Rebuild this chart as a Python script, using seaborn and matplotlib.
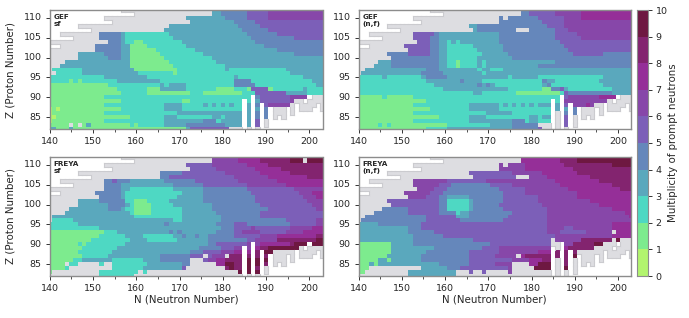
import numpy as np
import matplotlib
matplotlib.use('Agg')
import matplotlib.pyplot as plt
from matplotlib.colors import ListedColormap
import seaborn as sns

# rows run from Z=112 down to Z=82, every token is <class><last N of the run>
# g = nucleus without a value, digit = multiplicity bin (0 means 0-1, etc.)
gef_sf = [
    "g177 3179 4185 5190 6203", "g177 3179 4185 5190 6203", "g171 3180 4185 5190 6203",
    "g172 3182 4187 5203", "g167 3183 4188 5203", "g166 3184 4190 5203",
    "g151 4156 3157 2167 3185 4192 5203", "g151 4156 3157 2168 3186 4196 5203",
    "g153 4156 3157 2159 1161 2170 3187 4203", "g150 4156 3158 1162 2171 3189 4203",
    "g150 4156 3158 1164 2173 3192 4203", "g146 3152 4156 3158 1165 2175 3196 4203",
    "g146 3153 4156 3158 1166 2177 3203", "g143 3158 1167 2178 3203", "g142 3158 1168 2180 3203",
    "g140 2147 3159 1169 2180 3181 2194 3203", "g141 2147 3160 2168 1169 2182 2195 3203",
    "2152 3162 2182 3183 2198 3203", "2144 1145 2146 1147 2155 3165 2182 4186 2200 3203",
    "1153 2165 3166 2167 3171 2182 4187 2201 3203", "1155 2162 1165 3171 2178 1182 2185 1186 5190 1191 2198 3199 2203",
    "1156 2162 1172 2175 1184 2187 5194 3197 3199 2203", "1152 2184 2186 4188 5195 6199 g203",
    "1156 2170 1172 2184 2186 3188 5195 6196 g203", "1152 2166 3170 2175 3176 2177 3178 2179 3180 2181 3182 2184 3186 4188 5190 6195 g203",
    "0140 1141 0142 1156 2166 3170 2184 3186 3188 4190 g203", "0140 1152 2169 3184 3186 4188 4190 g203",
    "0141 1158 2166 3169 2177 3179 2180 3184 3186 4188 4190 g203", "0140 1152 2166 3175 4178 2179 3184 3186 5188 g190 g203",
    "1144 g145 1146 g147 1148 3149 1158 2159 1160 2166 3171 4180 3184 3186 5188 g203", "3141 1144 3145 1171 3172 5181 g203",
]
gef_nf = [
    "g177 4179 5185 6191 7203", "g177 4179 5185 6191 7203", "g172 4173 g174 4181 5187 6191 7203",
    "g172 4182 5187 6203", "g165 3167 4183 5187 6203", "g166 3167 4176 g179 4185 5188 6203",
    "g152 5157 4158 3172 4185 5190 6203", "g152 5156 4158 3172 4185 5191 6203",
    "g153 5156 4158 3160 2161 3162 2163 3172 4186 5203", "g150 5156 4158 3160 2166 3173 4187 5203",
    "g151 5156 4158 3160 2167 3173 4188 5203", "g146 4151 5156 4158 3160 2168 3174 4189 5196 4203",
    "g147 4158 3160 2167 3175 4203", "g144 3147 4158 3160 2162 1163 2167 3168 2169 3185 4203",
    "g143 3147 4158 3160 2162 1163 2167 3168 2169 3181 4203", "g141 3155 4158 3167 2168 3170 2173 3203",
    "g140 3154 4159 3168 2169 3203", "2145 3146 2154 3155 4160 3174 2175 3181 2196 3203",
    "2155 3163 4164 3168 2182 4183 3185 2195 3203", "2157 3167 4168 3169 4170 3171 2182 3183 4184 2196 3203",
    "2159 3174 2182 1184 4186 5187 3188 2198 3203", "2166 3168 2176 1186 2187 5188 4198 3203",
    "1145 2146 1152 2186 5188 6195 7199 g203", "1155 2184 2186 6188 6197 g203",
    "1152 2165 3172 2173 3174 2175 3176 2177 3178 2179 3180 2181 3184 3186 5188 6192 7193 6194 g203",
    "1156 2165 3172 2184 3186 3188 4191 g203", "1152 2169 3175 2184 g186 4188 4190 g203",
    "1158 2165 3169 2179 3181 2182 3184 g186 5188 g203", "1152 2165 3175 4178 2179 3181 2184 g186 5188 g203",
    "1144 2145 1146 2147 1160 2170 3175 4181 g186 5188 g203", "1155 2160 3175 4181 5182 g203",
]
freya_sf = [
    "g177 6183 7188 8195 9198 g199 9203", "g177 6183 7188 8195 9198 g199 9203", "g171 5177 6185 7190 8203",
    "g172 5178 6187 7193 8203", "g165 4170 5180 6188 7195 8203", "g165 4167 5182 6190 7199 8203",
    "g152 4154 5155 4158 3166 4173 5183 6192 7203", "g152 4156 3168 4175 5185 6194 7203",
    "g152 4156 3158 2168 3175 4185 5196 6203", "g150 4156 3157 2170 3175 4186 5197 6200 7203",
    "g151 4156 3157 2169 3175 4187 5198 6201 7203", "g146 3151 4157 2159 1162 2167 3175 4187 5199 6203",
    "g146 3153 4157 3158 2159 1163 2168 3177 4188 5200 6203", "g144 3153 4156 3157 2159 1163 2170 3177 4190 5201 6203",
    "g143 3158 2159 1163 2170 3178 4188 5203", "g140 3159 2170 3179 4188 5203",
    "g140 2145 3168 2170 3179 4194 5201 6203", "2146 3166 4167 3178 4182 5185 4195 5201 6203",
    "2151 3179 4182 5186 6187 5195 6200 7203", "1152 2155 3167 4168 3169 4170 3178 4182 5184 6188 5194 6198 7203",
    "1151 2157 3161 2168 3170 4171 3173 4174 3176 4182 5188 6192 7201 8203", "1149 2158 3162 2169 3176 4185 5187 6192 8201 9203",
    "1146 2147 1148 2157 3176 4178 5185 6188 7195 8196 9203", "1147 2155 3174 4179 5182 6184 6186 7188 8190 9197 g203",
    "1146 2154 3172 4175 5179 6182 7184 7186 8188 9190 9191 g203", "1147 2153 3165 4172 5175 g176 5177 6180 g181 8184 8186 8188 8190 g203",
    "1145 2147 3154 2161 3165 4172 g175 5176 6178 7180 8184 9186 9188 9190 g203", "1143 g144 2146 g151 2152 g154 2162 3170 4172 g178 7180 9182 8184 9186 9188 8190 g203",
    "1143 2144 g154 2161 3163 3170 5171 g180 8181 9182 8184 9186 8188 g203", "1140 g151 2160 g161 2162 g183 9184 9186 9188 g203",
    "g151 2159 g203",
]
freya_nf = [
    "g177 7186 8190 9203", "g177 7186 8190 9203", "g172 6173 g174 6178 7187 8198 9203",
    "g172 6178 7189 8203", "g165 5175 6182 7190 8203", "g166 5176 g179 6183 7193 8203",
    "g152 6160 5169 6185 7195 8203", "g152 6158 5161 4170 5175 6186 7198 8203",
    "g153 6157 5160 4172 5178 6188 7200 8203", "g150 6156 5159 4173 5178 6190 7203",
    "g151 6155 5158 4160 3165 4173 5181 6190 7203", "g146 5158 4160 2165 3166 4173 5181 6193 7203",
    "g147 5158 4160 2165 3166 4172 5182 6195 7203", "g145 4151 5158 4160 2165 3166 4173 5183 6198 7203",
    "g143 4151 5158 4162 2163 3165 4175 5183 6201 7203", "g141 4155 5162 3165 4174 5183 6202 7203",
    "g140 4155 5163 4173 5175 5183 6203", "3144 4154 5168 5183 6198 7203",
    "3151 4154 5174 5183 6187 5189 6198 7203", "3151 4157 5183 6186 5192 6198 g199 7203",
    "3152 4159 5185 6198 7203", "3152 4166 5184 g185 6191 8198 g199 9200 g203",
    "1147 3152 4170 5174 5184 g186 6189 8194 9196 g203", "1147 3157 4168 5172 6184 g186 7188 8194 g203",
    "1147 3155 4165 5172 6181 7184 8186 8188 8190 g203", "1146 3154 4165 5171 6176 g177 7178 8184 8186 8188 9190 g203",
    "1144 3146 1147 3154 4165 5175 6179 7182 8184 g186 8188 g203", "1142 3143 1144 3158 4165 5171 6175 g179 7181 9184 g186 8188 g203",
    "1142 g154 3160 4163 5174 6175 g180 9184 g186 9188 g203", "1141 g151 3162 g165 5166 g168 5169 g174 6175 g203",
    "g151 3162 g203",
]
# cells without any nucleus, shared by all panels: Z -> (first N, last N)
white_z = [112, 111, 110, 109, 108, 107, 106, 105, 103,
           90, 90, 89, 89, 89,
           88, 88, 88, 88, 88,
           87, 87, 87, 87, 87, 87,
           86, 86, 86, 86, 86, 86,
           85, 85, 85, 85, 85, 85,
           84, 84, 84, 84, 83, 83, 83, 83, 82, 82, 82, 82]
white_from = [140, 140, 140, 140, 140, 140, 140, 140, 140,
              187, 200, 185, 187, 199,
              185, 187, 189, 197, 202,
              185, 187, 189, 191, 195, 197,
              185, 187, 189, 191, 195, 197,
              185, 187, 189, 191, 193, 195,
              185, 187, 189, 191, 185, 187, 189, 191, 185, 187, 189, 190]
white_to = [156, 159, 152, 154, 146, 149, 142, 145, 142,
            187, 200, 185, 187, 199,
            185, 187, 189, 197, 202,
            185, 187, 189, 191, 195, 197,
            185, 187, 189, 191, 195, 203,
            185, 187, 189, 191, 193, 203,
            185, 187, 189, 203, 185, 187, 189, 203, 185, 187, 189, 203]
white_extra_z = [87, 87]
white_extra_n = [201, 202]

colors = ['#b2f46e', '#7deb8e', '#4ed8c3', '#5aa8bd', '#6587bb', '#7c5fb8',
          '#8747a9', '#952f98', '#83246f', '#6e1841']
gray = '#dddde1'
edge_gray = '#cbcbcf'
z_values = list(range(112, 81, -1))
n_values = list(range(140, 204))
x_ticks = [140, 150, 160, 170, 180, 190, 200]
x_minor = [145, 155, 165, 175, 185, 195]
y_ticks = [85, 90, 95, 100, 105, 110]
titles = ['GEF\nsf', 'GEF\n(n,f)', 'FREYA\nsf', 'FREYA\n(n,f)']
panels = [gef_sf, gef_nf, freya_sf, freya_nf]


def decode(rows):
    # -1 for gray, -2 for white, otherwise the middle of the bin
    grid = np.full((len(z_values), len(n_values)), -1.0)
    for i, row in enumerate(rows):
        start = 140
        for tok in row.split():
            end = int(tok[1:])
            if tok[0] != 'g':
                grid[i, start - 140:end - 139] = int(tok[0]) + 0.5
            start = end + 1
    for z, a, b in zip(white_z, white_from, white_to):
        grid[112 - z, a - 140:b - 139] = -2
    for z, n in zip(white_extra_z, white_extra_n):
        grid[112 - z, n - 140] = -2
    return grid


def draw_edges(ax, grid):
    # thin darker line between white holes and the gray area
    for i in range(grid.shape[0]):
        for j in range(grid.shape[1]):
            if grid[i, j] != -2:
                continue
            if i > 0 and grid[i - 1, j] == -1:
                ax.plot([j, j + 1], [i, i], color=edge_gray, lw=0.8, solid_capstyle='projecting')
            if i < grid.shape[0] - 1 and grid[i + 1, j] == -1:
                ax.plot([j, j + 1], [i + 1, i + 1], color=edge_gray, lw=0.8, solid_capstyle='projecting')
            if j > 0 and grid[i, j - 1] == -1:
                ax.plot([j, j], [i, i + 1], color=edge_gray, lw=0.8, solid_capstyle='projecting')
            if j < grid.shape[1] - 1 and grid[i, j + 1] == -1:
                ax.plot([j + 1, j + 1], [i, i + 1], color=edge_gray, lw=0.8, solid_capstyle='projecting')


sns.set_style('white')
plt.rcParams['font.family'] = ['DejaVu Sans']
plt.rcParams['font.size'] = 7

fig = plt.figure(figsize=(6.89, 3.18), dpi=100)
W, H = 689.0, 318.0
boxes = [(49.5, 10, 322.5, 129), (358.5, 10, 631, 129), (49.5, 157, 322.5, 276), (358.5, 157, 631, 276)]
cax = fig.add_axes([637 / W, 1 - 276 / H, 11 / W, 266 / H])

for k, (rows, box) in enumerate(zip(panels, boxes)):
    ax = fig.add_axes([box[0] / W, 1 - box[3] / H, (box[2] - box[0]) / W, (box[3] - box[1]) / H])
    grid = decode(rows)
    sns.heatmap(grid, mask=grid != -1, cmap=ListedColormap([gray]), cbar=False, ax=ax)
    sns.heatmap(grid, mask=grid < 0, cmap=ListedColormap(colors), vmin=0, vmax=10,
                cbar=k == 0, cbar_ax=cax if k == 0 else None, ax=ax)
    draw_edges(ax, grid)
    ax.set_facecolor('white')
    ax.set_xlim(0.5, 63.5)
    ax.set_ylim(30.5, 0.5)
    ax.set_xticks([n - 139.5 for n in x_ticks])
    ax.set_xticklabels(x_ticks, rotation=0)
    ax.set_xticks([n - 139.5 for n in x_minor], minor=True)
    ax.set_yticks([112.5 - z for z in y_ticks])
    ax.set_yticklabels(y_ticks, rotation=0)
    ax.tick_params(axis='both', which='major', length=3, width=0.7, color='#333333', labelsize=6.8, pad=2.5, left=True, bottom=True)
    ax.tick_params(axis='x', which='minor', length=2, width=0.6, color='#333333', bottom=True)
    for s in ax.spines.values():
        s.set_visible(True)
        s.set_color('#8c8c8c')
        s.set_linewidth(1)
    ax.text(0.016, 0.965, titles[k], transform=ax.transAxes, fontsize=5.2, fontweight='bold', va='top', ha='left')
    if k in (0, 2):
        ax.set_ylabel('Z (Proton Number)', fontsize=7.4, labelpad=6)
    if k in (2, 3):
        ax.set_xlabel('N (Neutron Number)', fontsize=7.4, labelpad=1.5)

cax.set_yticks(range(0, 11))
cax.set_yticklabels(range(0, 11))
cax.tick_params(length=3, width=0.7, labelsize=6.8, pad=2.5, right=True, color='#333333')
cax.set_ylabel('Multiplicity of prompt neutrons', fontsize=7.4, labelpad=0)
for s in cax.spines.values():
    s.set_visible(True)
    s.set_color('#8c8c8c')

fig.savefig('out.png', dpi=100)
